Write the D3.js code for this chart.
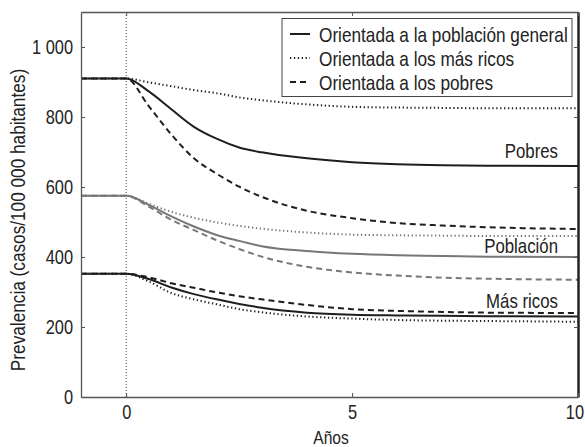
<!DOCTYPE html>
<html>
<head>
<meta charset="utf-8">
<script src="https://cdn.jsdelivr.net/npm/d3@7"></script>
<style>
  html, body { margin: 0; padding: 0; background: #fff; }
  svg { display: block; }
  text { font-family: "Liberation Sans", Arial, sans-serif; fill: #222; }
</style>
</head>
<body>
<svg id="chart" width="585" height="447"></svg>
<script>
// ---- data ----
const years = [-1, 0, 0.5, 1, 1.5, 2, 2.5, 3, 4, 5, 6, 7, 8, 10];

const pobresGeneral = [910, 910, 873, 822, 772, 738, 713, 699, 682, 671, 665, 662, 661, 660];
const pobresRicos   = [910, 910, 899, 888, 877, 868, 856, 848, 836, 829, 827, 826, 825, 825];
const pobresPobres  = [910, 910, 831, 750, 682, 638, 601, 572, 532, 511, 497, 490, 485, 480];

const poblGeneral = [575, 575, 549, 516, 487, 463, 446, 431, 417, 409, 405, 403, 401, 400];
const poblRicos   = [575, 575, 552, 529, 512, 499, 489, 481, 470, 464, 462, 461, 460, 460];
const poblPobres  = [575, 575, 544, 506, 477, 448, 423, 401, 372, 356, 347, 341, 338, 335];

const ricosGeneral = [352, 352, 337, 313, 294, 279, 266, 255, 241, 235, 233, 232, 231, 230];
const ricosRicos   = [352, 352, 330, 297, 279, 265, 251, 242, 230, 224, 220, 218, 217, 215];
const ricosPobres  = [352, 352, 342, 325, 312, 299, 288, 279, 263, 251, 246, 243, 241, 240];

const xTicks = [0, 5, 10];
const yTicks = [0, 200, 400, 600, 800, 1000];

const legendLabels = ["Orientada a la población general", "Orientada a los más ricos", "Orientada a los pobres"];
const groupLabels = ["Pobres", "Población", "Más ricos"];

// ---- layout ----
const svg = d3.select("#chart");
const L = 81, R = 578, T = 12, B = 397;
const x = d3.scaleLinear().domain([-1, 10]).range([L, R]);
const y = d3.scaleLinear().domain([0, 1100]).range([B, T]);

// condensed look: compress glyphs horizontally around the text anchor
function narrow(sel, k = 0.82) {
  sel.each(function () {
    const t = d3.select(this);
    const tx = +t.attr("x") || 0, ty = +t.attr("y") || 0;
    const prev = t.attr("transform") || "";
    t.attr("x", 0).attr("y", 0)
     .attr("transform", `${prev} translate(${tx},${ty}) scale(${k},1)`);
  });
}

const styles = { general: null, ricos: "1.3,2.6", pobres: "6,4" };

const series = [
  { v: pobresGeneral, color: "#1e1e1e", dash: styles.general },
  { v: pobresRicos,   color: "#1e1e1e", dash: styles.ricos },
  { v: pobresPobres,  color: "#1e1e1e", dash: styles.pobres },
  { v: poblGeneral,   color: "#777",    dash: styles.general },
  { v: poblRicos,     color: "#777",    dash: styles.ricos },
  { v: poblPobres,    color: "#777",    dash: styles.pobres },
  { v: ricosGeneral,  color: "#1e1e1e", dash: styles.general },
  { v: ricosRicos,    color: "#1e1e1e", dash: styles.ricos },
  { v: ricosPobres,   color: "#1e1e1e", dash: styles.pobres }
];

// vertical dotted line at 0
svg.append("line")
  .attr("x1", x(0)).attr("x2", x(0)).attr("y1", T).attr("y2", B)
  .attr("stroke", "#444").attr("stroke-width", 1).attr("stroke-dasharray", "1,2");

const line = d3.line().x((d, i) => x(years[i])).y(d => y(d)).curve(d3.curveMonotoneX);

svg.append("g").selectAll("path").data(series).join("path")
  .attr("d", s => line(s.v))
  .attr("fill", "none")
  .attr("stroke", s => s.color)
  .attr("stroke-width", 2)
  .attr("stroke-dasharray", s => s.dash);

// axes
const fmt = d => d >= 1000 ? d3.format(",")(d).replace(",", " ") : String(d);
const yAxis = svg.append("g").attr("transform", `translate(${L},0)`)
  .call(d3.axisLeft(y).tickValues(yTicks).tickFormat(fmt).tickSizeInner(-4).tickSizeOuter(0).tickPadding(8));
const yAxisR = svg.append("g").attr("transform", `translate(${R},0)`)
  .call(d3.axisRight(y).tickValues(yTicks).tickFormat("").tickSizeInner(-4).tickSizeOuter(0));
const xAxis = svg.append("g").attr("transform", `translate(0,${B})`)
  .call(d3.axisBottom(x).tickValues(xTicks).tickFormat(d3.format("d")).tickSizeInner(-4).tickSizeOuter(0).tickPadding(8));
const xAxisT = svg.append("g").attr("transform", `translate(0,${T})`)
  .call(d3.axisTop(x).tickValues(xTicks).tickFormat("").tickSizeInner(-4).tickSizeOuter(0));

[yAxis, yAxisR, xAxis, xAxisT].forEach(g => {
  g.select(".domain").attr("stroke", "#555").attr("stroke-width", 1.3);
  g.selectAll(".tick line").attr("stroke", "#555").attr("stroke-width", 1);
  g.selectAll(".tick text").attr("font-size", 20).attr("fill", "#222")
    .style("font-family", '"Liberation Sans", Arial, sans-serif');
});
yAxisR.select(".domain").attr("stroke", "#222").attr("stroke-width", 2.5);
// keep the last x label inside the picture, as in the reference
xAxis.selectAll(".tick text").filter(d => d === 10).attr("text-anchor", "end").attr("x", 5.5);
narrow(yAxis.selectAll(".tick text"));
narrow(xAxis.selectAll(".tick text"));

// axis titles
svg.append("text").attr("x", 331).attr("y", 444).attr("text-anchor", "middle")
  .attr("font-size", 19).text("Años").call(narrow);
svg.append("text").attr("transform", "translate(25,220) rotate(-90)").attr("text-anchor", "middle")
  .attr("font-size", 21).text("Prevalencia (casos/100 000 habitantes)").call(narrow);

// group labels
const labelY = [158, 253, 308];
svg.append("g").selectAll("text").data(groupLabels).join("text")
  .attr("x", 558).attr("y", (d, i) => labelY[i]).attr("text-anchor", "end")
  .attr("font-size", 20.5).text(d => d).call(narrow);

// legend
const lg = svg.append("g");
lg.append("rect").attr("x", 282).attr("y", 18.5).attr("width", 290).attr("height", 78)
  .attr("fill", "#fff").attr("stroke", "#444").attr("stroke-width", 1);
const legDash = [styles.general, styles.ricos, styles.pobres];
legendLabels.forEach((t, i) => {
  const cy = 34 + i * 24;
  lg.append("line").attr("x1", 290).attr("x2", 310).attr("y1", cy).attr("y2", cy)
    .attr("stroke", "#1e1e1e").attr("stroke-width", 2).attr("stroke-dasharray", legDash[i]);
  lg.append("text").attr("x", 319).attr("y", cy + 7.5).attr("font-size", 21).text(t).call(narrow);
});
</script>
</body>
</html>
